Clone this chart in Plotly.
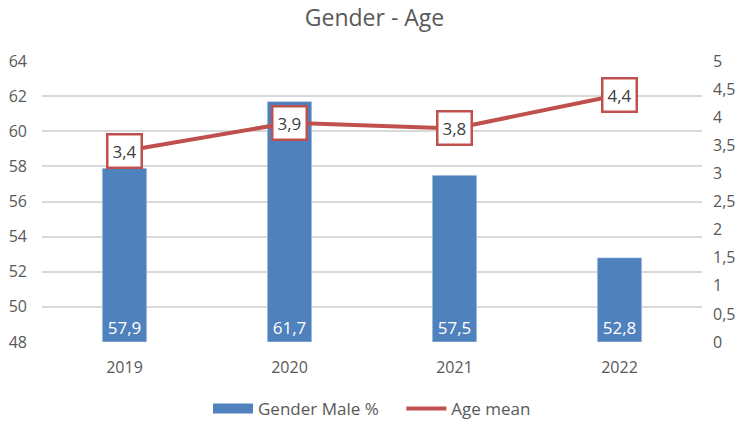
import plotly.graph_objects as go

years = ["2019", "2020", "2021", "2022"]
gender_male = [57.9, 61.7, 57.5, 52.8]
age_mean = [3.4, 3.9, 3.8, 4.4]

blue = "#4F81BD"
red = "#C0504D"
grey = "#595959"

fig = go.Figure()

# bars start at the bottom of the axis so the labels sit at their base
fig.add_trace(go.Bar(
    x=years, y=[v - 48 for v in gender_male], base=48, name="Gender Male %",
    marker_color=blue, width=0.27, showlegend=False,
    text=[f"{v:.1f}".replace(".", ",") for v in gender_male],
    textposition="inside", insidetextanchor="start",
    textfont=dict(color="white", size=17, family="Open Sans"),
))

# legend entry for the bars drawn as a wide block like the original
fig.add_trace(go.Scatter(
    x=[None], y=[None], name="Gender Male %\u00a0\u00a0\u00a0\u00a0", mode="lines",
    line=dict(color=blue, width=10),
))

fig.add_trace(go.Scatter(
    x=years, y=age_mean, name="Age mean", yaxis="y2",
    mode="lines", line=dict(color=red, width=4),
))

# boxed labels on the line (category index, since "2019" would be read as an index)
for i, v in enumerate(age_mean):
    fig.add_annotation(
        x=i, y=v, yref="y2", text=f"{v:.1f}".replace(".", ","),
        showarrow=False, bgcolor="white", bordercolor=red, borderwidth=2.5,
        borderpad=4, font=dict(size=17, color="#404040"),
    )

fig.update_layout(
    width=749, height=427,
    margin=dict(l=42, r=47, t=61, b=85, autoexpand=False),
    paper_bgcolor="white", plot_bgcolor="white",
    font=dict(family="Open Sans", color=grey, size=16),
    separators=",.",
    title=dict(text="Gender - Age", x=0.5, xanchor="center", y=0.958,
               yanchor="middle", font=dict(size=23, color=grey)),
    xaxis=dict(type="category", range=[-0.5, 3.5], showline=False, ticks="",
               tickfont=dict(size=16), automargin=False, ticklabelstandoff=14),
    yaxis=dict(range=[48, 64], dtick=2, showgrid=True, gridcolor="#D9D9D9",
               gridwidth=1.5, zeroline=False, tickfont=dict(size=16),
               ticklabelstandoff=14, automargin=False),
    yaxis2=dict(range=[0, 5], dtick=0.5, overlaying="y", side="right",
                showgrid=False, zeroline=False, tickfont=dict(size=16),
                ticklabelstandoff=10, automargin=False),
    legend=dict(orientation="h", x=0.5, xanchor="center", yref="container",
                y=0.042, yanchor="middle", font=dict(size=17), itemwidth=40),
)

fig.write_html("out.html", config={"displayModeBar": False},
               post_script="document.body.style.margin='0';")
